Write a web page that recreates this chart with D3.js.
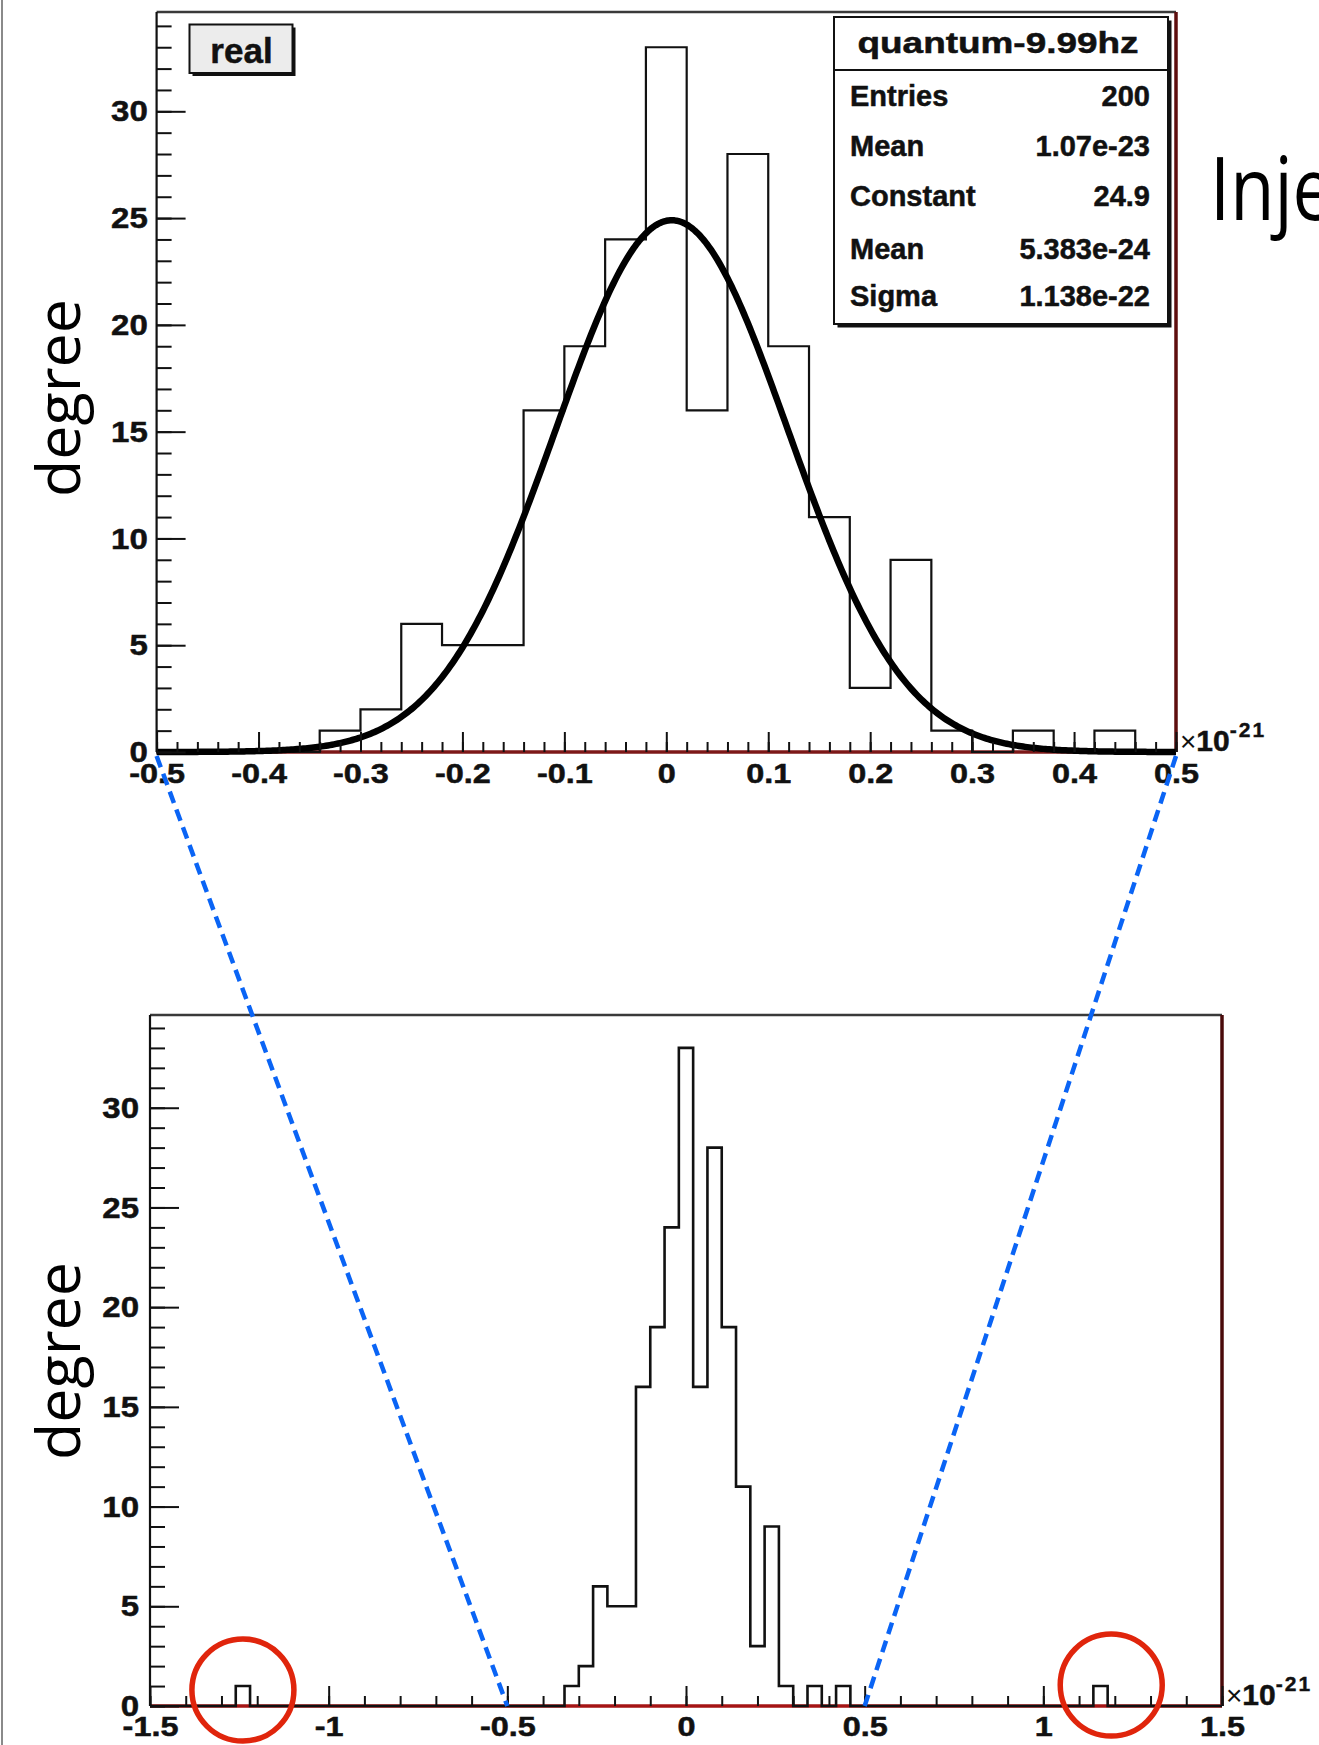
<!DOCTYPE html>
<html>
<head>
<meta charset="utf-8">
<script src="https://cdn.jsdelivr.net/npm/d3@7"></script>
<style>
  html, body { margin: 0; padding: 0; background: #fff; }
  svg { display: block; }
</style>
</head>
<body>
<svg id="chart" width="1319" height="1745"></svg>
<script>
// ---- Histogram contents (x in units of 10^-21), bins of fixed width ----
const binWidth = 0.04;
const binLowEdges = [-1.26, -0.34, -0.30, -0.26, -0.22, -0.18, -0.14, -0.10, -0.06, -0.02,
                      0.02,  0.06,  0.10,  0.14,  0.18,  0.22,  0.26,  0.34,  0.42,  1.14];
const binCounts   = [1, 1, 2, 6, 5, 5, 16, 19, 24, 33,
                     16, 28, 19, 11, 3, 9, 1, 1, 1, 1];

// ---- Gaussian fit parameters ----
const fitConstant = 24.9;
const fitMean = 0.005383;   // 5.383e-24
const fitSigma = 0.1138;    // 1.138e-22

// ---- Stats box ----
const statsTitle = "quantum-9.99hz";
const statsLabels = ["Entries", "Mean", "Constant", "Mean", "Sigma"];
const statsValues = ["200", "1.07e-23", "24.9", "5.383e-24", "1.138e-22"];

// ---- Axes ----
const yTickValues = [0, 5, 10, 15, 20, 25, 30];
const topXTickValues = [-0.5, -0.4, -0.3, -0.2, -0.1, 0, 0.1, 0.2, 0.3, 0.4, 0.5];
const bottomXTickValues = [-1.5, -1, -0.5, 0, 0.5, 1, 1.5];
const topXRange = [-0.5, 0.5];
const bottomXRange = [-1.5, 1.5];
const yMax = 34.65;               // 1.05 x tallest bin
const yAxisTitle = "degree";
const xExponent = "-21";
const legendLabel = "real";
const sideHeading = "Inje";

// ---- Outlier bins marked with circles (x, y in data units) ----
const circleCentersX = [-1.24, 1.19];
const circleCentersY = [0.8, 1.05];

// ------------------------------------------------------------------
const svg = d3.select("#chart");
const ROOT_FONT = "'Liberation Sans', Arial, Helvetica, sans-serif";

// full 75-bin histogram over the wide range
const nBins = Math.round((bottomXRange[1] - bottomXRange[0]) / binWidth);
const counts = new Array(nBins).fill(0);
binLowEdges.forEach((e, i) => {
  counts[Math.round((e - bottomXRange[0]) / binWidth)] = binCounts[i];
});
const bins = counts.map((n, k) => ({
  x0: bottomXRange[0] + k * binWidth,
  x1: bottomXRange[0] + (k + 1) * binWidth,
  n
}));

// slide edge
svg.append("line").attr("x1", 2).attr("x2", 2).attr("y1", 0).attr("y2", 1745)
  .attr("stroke", "#8a8a8a").attr("stroke-width", 2);

function histOutline(lo, hi) {
  const sel = bins.filter(b => b.x0 >= lo - 1e-9 && b.x1 <= hi + 1e-9);
  const pts = [[sel[0].x0, 0]];
  sel.forEach(b => { pts.push([b.x0, b.n]); pts.push([b.x1, b.n]); });
  pts.push([sel[sel.length - 1].x1, 0]);
  return pts;
}

function boldText(s, size) {
  s.attr("font-family", ROOT_FONT).attr("font-weight", "bold").attr("font-size", size)
    .attr("fill", "#111").attr("stroke", "#111").attr("stroke-width", 0.5);
}

function drawPanel(opts) {
  const { x, y, xMajors, xMinors, histWidth, xPad, yPad, axisColor, rightColor, drawFit, titleY } = opts;
  const g = svg.append("g");
  const [xl, xr] = x.range();
  const [yb, yt] = y.range();

  // frame: top and left dark, bottom axis and right side dark red
  g.append("line").attr("x1", xl).attr("x2", xr).attr("y1", yt).attr("y2", yt)
    .attr("stroke", "#3a3a3a").attr("stroke-width", 2.5);
  g.append("line").attr("x1", xr).attr("x2", xr).attr("y1", yt).attr("y2", yb)
    .attr("stroke", rightColor).attr("stroke-width", 3.5);
  g.append("line").attr("x1", xl).attr("x2", xr).attr("y1", yb).attr("y2", yb)
    .attr("stroke", axisColor).attr("stroke-width", 3.5);
  g.append("line").attr("x1", xl).attr("x2", xl).attr("y1", yt).attr("y2", yb)
    .attr("stroke", "#111").attr("stroke-width", 2.2);

  // histogram outline
  const line = d3.line().x(d => x(d[0])).y(d => y(d[1]));
  g.append("path").attr("d", line(histOutline(...x.domain())))
    .attr("fill", "none").attr("stroke", "#111").attr("stroke-width", histWidth)
    .attr("stroke-linejoin", "miter");

  // gaussian fit
  if (drawFit) {
    const [a, b] = x.domain();
    const xs = d3.range(0, 501).map(i => a + (b - a) * i / 500);
    const gauss = v => fitConstant * Math.exp(-0.5 * Math.pow((v - fitMean) / fitSigma, 2));
    g.append("path").attr("d", line(xs.map(v => [v, gauss(v)])))
      .attr("fill", "none").attr("stroke", "#000").attr("stroke-width", 6.5)
      .attr("stroke-linejoin", "round").attr("stroke-linecap", "butt");
  }

  // x axis: minor + major ticks pointing up
  g.append("g").attr("transform", `translate(0,${yb})`)
    .call(d3.axisBottom(x).tickValues(xMinors).tickSize(-10).tickFormat(""))
    .call(s => s.select(".domain").remove())
    .call(s => s.selectAll("line").attr("stroke", "#111").attr("stroke-width", 2));
  g.append("g").attr("transform", `translate(0,${yb})`)
    .call(d3.axisBottom(x).tickValues(xMajors).tickSize(-20).tickPadding(xPad)
      .tickFormat(d => String(d)))
    .call(s => s.select(".domain").remove())
    .call(s => s.selectAll("line").attr("stroke", "#111").attr("stroke-width", 2))
    .call(s => s.selectAll("text").call(boldText, 27).attr("transform", "scale(1.2,1)"));

  // y axis: minor + major ticks pointing right
  g.append("g").attr("transform", `translate(${xl},0)`)
    .call(d3.axisLeft(y).tickValues(d3.range(0, 35)).tickSize(-15).tickFormat(""))
    .call(s => s.select(".domain").remove())
    .call(s => s.selectAll("line").attr("stroke", "#111").attr("stroke-width", 2));
  g.append("g").attr("transform", `translate(${xl},0)`)
    .call(d3.axisLeft(y).tickValues(yTickValues).tickSize(-29).tickPadding(yPad)
      .tickFormat(d => String(d)))
    .call(s => s.select(".domain").remove())
    .call(s => s.selectAll("line").attr("stroke", "#111").attr("stroke-width", 2))
    .call(s => s.selectAll("text").call(boldText, 30).attr("transform", "scale(1.1,1)"));

  // x10^-21 multiplier
  const m = g.append("text").attr("x", xr + 4).attr("y", yb - 1)
    .attr("font-family", ROOT_FONT).attr("fill", "#111");
  m.append("tspan").attr("font-size", 28).text("\u00d7");
  m.append("tspan").attr("font-size", 30).attr("font-weight", "bold")
    .attr("stroke", "#111").attr("stroke-width", 0.5).text("10");
  m.append("tspan").attr("font-size", 21).attr("font-weight", "bold")
    .attr("stroke", "#111").attr("stroke-width", 0.4)
    .attr("dy", -14).attr("letter-spacing", 2).text(xExponent);

  // y-axis title
  svg.append("text")
    .attr("transform", `translate(80,${titleY}) rotate(-90)`)
    .attr("text-anchor", "middle")
    .attr("font-family", "'Open Sans', 'Noto Sans', sans-serif")
    .attr("font-size", 61).attr("fill", "#000")
    .text(yAxisTitle);
  return g;
}

const xTop = d3.scaleLinear().domain(topXRange).range([156.6, 1176]);
const yTop = d3.scaleLinear().domain([0, yMax]).range([752, 12]);
const xBot = d3.scaleLinear().domain(bottomXRange).range([150, 1222]);
const yBot = d3.scaleLinear().domain([0, yMax]).range([1706, 1015]);

drawPanel({
  x: xTop, y: yTop,
  xMajors: topXTickValues,
  xMinors: d3.range(0, 51).map(i => +(topXRange[0] + i * 0.02).toFixed(2)),
  histWidth: 2.2, xPad: 12, yPad: 8,
  axisColor: "#7d1818", rightColor: "#5e0e0e", drawFit: true, titleY: 398
});
drawPanel({
  x: xBot, y: yBot,
  xMajors: bottomXTickValues,
  xMinors: d3.range(0, 31).map(i => +(bottomXRange[0] + i * 0.1).toFixed(1)),
  histWidth: 2.6, xPad: 11, yPad: 10,
  axisColor: "#a51414", rightColor: "#4a0a0a", drawFit: false, titleY: 1361
});

// ---- legend box "real" ----
svg.append("rect").attr("x", 192.5).attr("y", 27.5).attr("width", 103).attr("height", 48.5)
  .attr("fill", "#111");
svg.append("rect").attr("x", 189.5).attr("y", 24.5).attr("width", 103).attr("height", 48.5)
  .attr("fill", "#ececec").attr("stroke", "#111").attr("stroke-width", 2);
svg.append("text").attr("x", 241.5).attr("y", 63).attr("text-anchor", "middle")
  .call(boldText, 35).text(legendLabel);

// ---- stats box ----
const sb = { x: 834, y: 17, w: 334, h: 307 };
const rowBaselines = [106, 156, 206, 259, 306];
svg.append("rect").attr("x", sb.x + 3.5).attr("y", sb.y + 3.5).attr("width", sb.w).attr("height", sb.h)
  .attr("fill", "#111");
svg.append("rect").attr("x", sb.x).attr("y", sb.y).attr("width", sb.w).attr("height", sb.h)
  .attr("fill", "#fff").attr("stroke", "#111").attr("stroke-width", 2);
svg.append("line").attr("x1", sb.x).attr("x2", sb.x + sb.w).attr("y1", 70).attr("y2", 70)
  .attr("stroke", "#111").attr("stroke-width", 2);
svg.append("text").attr("x", sb.x + sb.w / 2 - 3).attr("y", 53).attr("text-anchor", "middle")
  .call(boldText, 30)
  .attr("textLength", 281).attr("lengthAdjust", "spacingAndGlyphs")
  .text(statsTitle);
statsLabels.forEach((lab, i) => {
  svg.append("text").attr("x", 850).attr("y", rowBaselines[i])
    .call(boldText, 29).text(lab);
  svg.append("text").attr("x", 1150).attr("y", rowBaselines[i]).attr("text-anchor", "end")
    .call(boldText, 29).text(statsValues[i]);
});

// ---- heading at the right edge of the slide ----
svg.append("text")
  .attr("transform", "translate(1210,220) scale(0.82,1)")
  .attr("font-family", "'Open Sans', 'Noto Sans', sans-serif").attr("font-size", 88)
  .attr("fill", "#000").text(sideHeading);

// ---- zoom guides: blue dashed lines from the narrow range to the wide range ----
topXRange.forEach(v => {
  svg.append("line")
    .attr("x1", xTop(v)).attr("y1", yTop(0) + 4)
    .attr("x2", xBot(v)).attr("y2", yBot(0))
    .attr("stroke", "#0a64f5").attr("stroke-width", 4.5)
    .attr("stroke-dasharray", "12,7");
});

// ---- circles around the outlying entries ----
circleCentersX.forEach((cx, i) => {
  svg.append("circle")
    .attr("cx", xBot(cx)).attr("cy", yBot(circleCentersY[i])).attr("r", 51)
    .attr("fill", "none").attr("stroke", "#e0250c").attr("stroke-width", 5.5);
});
</script>
</body>
</html>
